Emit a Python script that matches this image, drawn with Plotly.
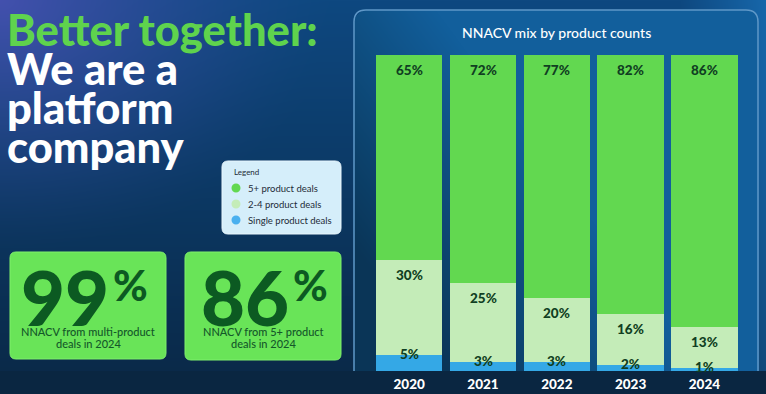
import base64, struct, zlib
import numpy as np
import plotly.graph_objects as go

# ---------------- data ----------------
years = ["2020", "2021", "2022", "2023", "2024"]
five_plus = [65, 72, 77, 82, 86]
two_to_four = [30, 25, 20, 16, 13]
single = [5, 3, 3, 2, 1]
series_names = ["5+ product deals", "2-4 product deals", "Single product deals"]
kpi_values = ["99", "86"]
kpi_captions = [["NNACV from multi-product", "deals in 2024"],
                ["NNACV from 5+ product", "deals in 2024"]]
chart_title = "NNACV mix by product counts"
heading_lines = ["Better together:", "We are a", "platform", "company"]

W, H = 766, 394
C_GREEN = "#62d850"
C_LIGHT = "#c4ecb8"
C_BLUE = "#34a8e6"
C_LABEL = "#103f22"
FONT = "Lato"


def px(x):
    return x / W


def py(y):
    return 1 - y / H


# ---------------- background image ----------------
def hexrgb(h):
    h = h.lstrip("#")
    return np.array([int(h[i:i + 2], 16) for i in (0, 2, 4)], dtype=float)


yy, xx = np.mgrid[0:H, 0:W].astype(float)


def lerp(a, b, t):
    return a * (1 - t[..., None]) + b * t[..., None]


t = yy / H
img = lerp(hexrgb("#0e4880"), hexrgb("#0a2846"), t)
d = np.sqrt(xx ** 2 + (yy * 1.3) ** 2)
wg = np.clip(1 - d / 330, 0, 1) ** 1.4
img = lerp(img, hexrgb("#4651b0"), wg * 0.95)
wr = np.clip((xx - 680) / 86, 0, 1) * (1 - 0.5 * yy / H)
img = lerp(img, hexrgb("#1767aa"), wr)

# panel
PX0, PX1, PY0, PR = 354, 758, 10, 12
inside = (xx >= PX0) & (xx <= PX1) & (yy >= PY0)
c1 = (xx < PX0 + PR) & (yy < PY0 + PR) & ((xx - PX0 - PR) ** 2 + (yy - PY0 - PR) ** 2 > PR ** 2)
c2 = (xx > PX1 - PR) & (yy < PY0 + PR) & ((xx - PX1 + PR) ** 2 + (yy - PY0 - PR) ** 2 > PR ** 2)
inside &= ~c1 & ~c2
tp = np.clip((xx - PX0) / 260 + (250 - yy) / 350, 0, 1)
panel = lerp(hexrgb("#0a3557"), hexrgb("#125f9c"), tp)
img = np.where(inside[..., None], panel, img)

# bottom band
band = yy >= 371
img = np.where(band[..., None], hexrgb("#0a2641"), img)

arr = np.clip(img, 0, 255).astype(np.uint8)


def png_uri(a):
    h, w, _ = a.shape
    raw = b"".join(b"\x00" + a[r].tobytes() for r in range(h))

    def chunk(tag, data):
        return (struct.pack(">I", len(data)) + tag + data +
                struct.pack(">I", zlib.crc32(tag + data) & 0xffffffff))

    png = (b"\x89PNG\r\n\x1a\n" +
           chunk(b"IHDR", struct.pack(">IIBBBBB", w, h, 8, 2, 0, 0, 0)) +
           chunk(b"IDAT", zlib.compress(raw, 9)) + chunk(b"IEND", b""))
    return "data:image/png;base64," + base64.b64encode(png).decode()


# ---------------- helpers ----------------
def rr_path(x0, y0, x1, y1, r):
    def p(x, y):
        return f"{px(x):.5f},{py(y):.5f}"
    return (f"M {p(x0 + r, y0)} L {p(x1 - r, y0)} Q {p(x1, y0)} {p(x1, y0 + r)} "
            f"L {p(x1, y1 - r)} Q {p(x1, y1)} {p(x1 - r, y1)} L {p(x0 + r, y1)} "
            f"Q {p(x0, y1)} {p(x0, y1 - r)} L {p(x0, y0 + r)} Q {p(x0, y0)} {p(x0 + r, y0)} Z")


def panel_border():
    def p(x, y):
        return f"{px(x):.5f},{py(y):.5f}"
    r = PR
    return (f"M {p(PX0, 371)} L {p(PX0, PY0 + r)} Q {p(PX0, PY0)} {p(PX0 + r, PY0)} "
            f"L {p(PX1 - r, PY0)} Q {p(PX1, PY0)} {p(PX1, PY0 + r)} L {p(PX1, 371)}")


shapes = []
annotations = []


def text(s, x, y, size, color, weight=400, xanchor="center", yanchor="middle", family=FONT):
    annotations.append(dict(text=s, x=px(x), y=py(y), xref="paper", yref="paper",
                            xanchor=xanchor, yanchor=yanchor, showarrow=False,
                            font=dict(family=family, size=size, color=color, weight=weight)))


# ---------------- figure ----------------
fig = go.Figure()
fig.add_trace(go.Bar(x=years, y=single, name=series_names[2], marker_color=C_BLUE,
                     marker_line_width=0, showlegend=False, hoverinfo="skip"))
fig.add_trace(go.Bar(x=years, y=two_to_four, name=series_names[1], marker_color=C_LIGHT,
                     marker_line_width=0, showlegend=False, hoverinfo="skip"))
fig.add_trace(go.Bar(x=years, y=five_plus, name=series_names[0], marker_color=C_GREEN,
                     marker_line_width=0, showlegend=False, hoverinfo="skip"))

lab_font = dict(family=FONT, size=13.5, color=C_LABEL, weight=900)
for i, yr in enumerate(years):
    top_all = single[i] + two_to_four[i] + five_plus[i]
    top_mid = single[i] + two_to_four[i]
    annotations.append(dict(x=i, y=top_all, xref="x", yref="y", text=f"{five_plus[i]}%",
                            showarrow=False, yanchor="top", yshift=-5, font=lab_font))
    annotations.append(dict(x=i, y=top_mid, xref="x", yref="y", text=f"{two_to_four[i]}%",
                            showarrow=False, yanchor="top", yshift=-5, font=lab_font))
    annotations.append(dict(x=i, y=single[i], xref="x", yref="y", text=f"{single[i]}%",
                            showarrow=False, yanchor="middle", yshift=1, font=lab_font))

# panel border + title
shapes.append(dict(type="path", path=panel_border(), xref="paper", yref="paper",
                   line=dict(color="#5f98c8", width=1.5), layer="below"))
text(chart_title, 556, 32, 14, "white", 500)

# heading
text(heading_lines[0], 5, 29, 43.5, "#5fd34d", 900, xanchor="left")
for i, ln in enumerate(heading_lines[1:]):
    text(ln, 5, 67.5 + 39.5 * i, 43.5, "white", 900, xanchor="left")

# legend box
shapes.append(dict(type="path", path=rr_path(222, 161, 341, 234, 6), xref="paper", yref="paper",
                   fillcolor="#d5eefa", line=dict(color="#e8f6fd", width=1), layer="above"))
text("Legend", 232, 172, 8, "#1d2c38", 400, xanchor="left")
leg_cols = [C_GREEN, C_LIGHT, "#4ab0ef"]
for i, (nm, col) in enumerate(zip(series_names, leg_cols)):
    cy = 188 + 16 * i
    shapes.append(dict(type="circle", xref="paper", yref="paper",
                       x0=px(231.5), x1=px(240.5), y0=py(cy - 4.5), y1=py(cy + 4.5),
                       fillcolor=col, line=dict(width=0), layer="above"))
    text(nm, 246, cy, 9.5, "#1d2c38", 400, xanchor="left")

# KPI cards
cards = [(10, 252, 166, 359), (185, 252, 341, 360)]
num_x = [(23, 110), (202, 290)]
for (x0, y0, x1, y1), val, cap, (nx0, nx1) in zip(cards, kpi_values, kpi_captions, num_x):
    shapes.append(dict(type="path", path=rr_path(x0, y0, x1, y1, 6), xref="paper", yref="paper",
                       fillcolor="#69e458", line=dict(color="#7ff06c", width=1), layer="above"))
    text(val, nx1 + 1, 296, 76, "#0c5a22", 900, xanchor="right")
    text("%", nx1 + 1, 284.5, 42, "#0c5a22", 900, xanchor="left")
    cx = (x0 + x1) / 2
    text(cap[0], cx, 331, 11, "#14582a", 500)
    text(cap[1], cx, 343.5, 11, "#14582a", 500)

fig.update_layout(
    width=W, height=H, autosize=False,
    margin=dict(l=0, r=0, t=0, b=0),
    paper_bgcolor="rgba(0,0,0,0)", plot_bgcolor="rgba(0,0,0,0)",
    barmode="stack", bargap=0.1,
    xaxis=dict(type="category", domain=[372.3 / W, 741.3 / W], range=[-0.5, 4.5], showgrid=False,
               zeroline=False, showline=False, ticks="", fixedrange=True, ticklabelstandoff=3,
               tickfont=dict(family=FONT, size=13.5, color="white", weight=900)),
    yaxis=dict(domain=[(H - 371) / H, (H - 55) / H], range=[0, 100], visible=False,
               fixedrange=True),
    images=[dict(source=png_uri(arr), xref="paper", yref="paper", x=0, y=1, sizex=1, sizey=1,
                 xanchor="left", yanchor="top", sizing="stretch", layer="below")],
    shapes=shapes, annotations=annotations, showlegend=False,
)

fig.write_html("out.html", config={"displayModeBar": False},
               post_script="document.body.style.margin='0';document.body.style.background='#0a2846';")
